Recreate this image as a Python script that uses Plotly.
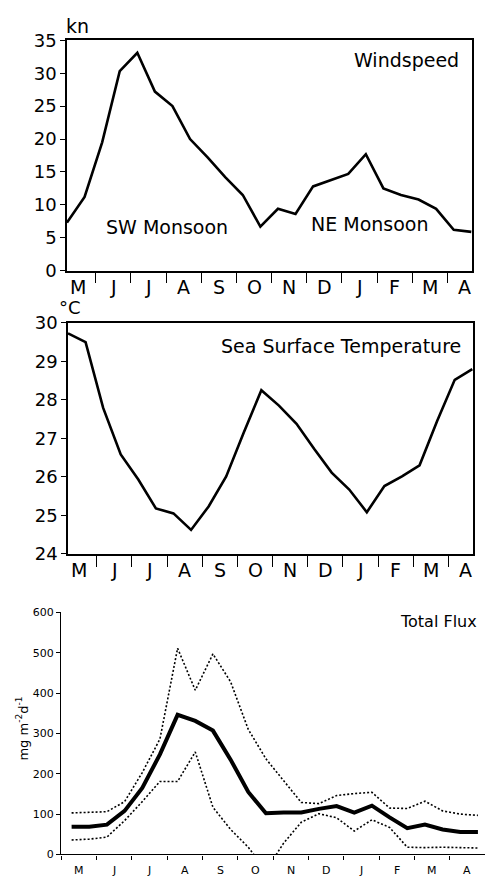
import plotly.graph_objects as go

W, H = 485, 884
FONT = "DejaVu Sans"

# ---------------- data ----------------
month_letters = ["M", "J", "J", "A", "S", "O", "N", "D", "J", "F", "M", "A"]
month_mid = [0.5, 1.5, 2.5, 3.5, 4.5, 5.5, 6.5, 7.5, 8.5, 9.5, 10.5, 11.5]
month_bounds = [1, 2, 3, 4, 5, 6, 7, 8, 9, 10, 11]
month_bounds_full = [0, 1, 2, 3, 4, 5, 6, 7, 8, 9, 10, 11, 12]

# sampling times (months after 1 May), half-monthly
t_met = [0.18, 0.68, 1.18, 1.68, 2.18, 2.68, 3.18, 3.68, 4.18, 4.68, 5.18, 5.68,
         6.18, 6.68, 7.18, 7.68, 8.18, 8.68, 9.18, 9.68, 10.18, 10.68, 11.18, 11.68]
t_flux = [0.3, 0.8, 1.3, 1.8, 2.3, 2.8, 3.3, 3.8, 4.3, 4.8, 5.3, 5.8,
          6.3, 6.8, 7.3, 7.8, 8.3, 8.8, 9.3, 9.8, 10.3, 10.8, 11.3, 11.8]

windspeed = [7.3, 11.2, 19.5, 30.3, 33.1, 27.2, 25.0, 20.0, 17.2, 14.2, 11.5, 6.7,
             9.4, 8.6, 12.8, 13.8, 14.7, 17.7, 12.5, 11.5, 10.8, 9.4, 6.2, 5.9]

sst = [29.73, 29.5, 27.79, 26.58, 25.93, 25.18, 25.05, 24.62, 25.23, 26.01, 27.15, 28.25,
       27.85, 27.38, 26.73, 26.11, 25.67, 25.08, 25.76, 26.01, 26.3, 27.45, 28.52, 28.8]

flux_mean = [68.5, 69, 74, 108, 165, 248, 346, 331, 307, 235, 155, 102,
             104, 104, 113, 120, 104, 121, 92, 65, 74, 62, 56, 56]
flux_upper = [103, 104, 106, 131, 203, 286, 511, 407, 497, 428, 310, 237,
              182, 129, 126, 146, 151, 154, 115, 114, 132, 108, 100, 97]
flux_lower = [36, 38, 43, 84, 131, 181, 181, 254, 117, 62, 18, -40,
              28, 80, 101, 91, 58, 86, 67, 18, 17, 18, 17, 16]

# ---------------- figure ----------------
def px_x(p):
    return p / W

def px_y(p):
    return 1 - p / H

fig = go.Figure()

fig.add_trace(go.Scatter(x=t_met, y=windspeed, mode="lines",
                         line=dict(color="black", width=2.6),
                         xaxis="x", yaxis="y", showlegend=False))
fig.add_trace(go.Scatter(x=t_met, y=sst, mode="lines",
                         line=dict(color="black", width=2.6),
                         xaxis="x2", yaxis="y2", showlegend=False))
fig.add_trace(go.Scatter(x=t_flux, y=flux_upper, mode="lines",
                         line=dict(color="black", width=1.6, dash="2px,2px"),
                         xaxis="x3", yaxis="y3", showlegend=False))
fig.add_trace(go.Scatter(x=t_flux, y=flux_lower, mode="lines",
                         line=dict(color="black", width=1.6, dash="2px,2px"),
                         xaxis="x3", yaxis="y3", showlegend=False))
fig.add_trace(go.Scatter(x=t_flux, y=flux_mean, mode="lines",
                         line=dict(color="black", width=4),
                         xaxis="x3", yaxis="y3", showlegend=False))


def month_axis(domain, rng, bounds, ticklen, anchor, mirror, lw):
    return dict(
        domain=domain, range=rng, anchor=anchor,
        tickmode="array", tickvals=bounds, showticklabels=False,
        ticks="outside", ticklen=ticklen, tickwidth=1.3, tickcolor="black",
        showgrid=False, zeroline=False, showline=True, linecolor="black",
        linewidth=lw, mirror=mirror, fixedrange=True,
    )


def val_axis(domain, rng, dtick, size, ticklen, anchor, mirror, lw):
    return dict(
        domain=domain, range=rng, anchor=anchor, dtick=dtick, tick0=rng[0],
        ticks="outside", ticklen=ticklen, tickwidth=1.2, tickcolor="black",
        tickfont=dict(family=FONT, size=size, color="black"),
        showgrid=False, zeroline=False, showline=True, linecolor="black",
        linewidth=lw, mirror=mirror, fixedrange=True,
    )


d1x = [px_x(67), px_x(472)]
d2x = [px_x(68), px_x(473)]
d3x = [px_x(61), 1.0]

fig.update_layout(
    width=W, height=H,
    margin=dict(l=0, r=0, t=0, b=0),
    paper_bgcolor="white", plot_bgcolor="white",
    font=dict(family=FONT, color="black"),
    xaxis=month_axis(d1x, [0.18, 11.7], month_bounds, 11, "y", True, 1.6),
    yaxis=val_axis([px_y(266), px_y(30)], [0, 35], 5, 18, 5, "x", True, 1.6),
    xaxis2=month_axis(d2x, [0.18, 11.7], month_bounds, 11, "y2", True, 1.6),
    yaxis2=val_axis([px_y(556), px_y(319.5)], [24, 30], 1, 18, 5, "x2", True, 1.6),
    xaxis3=month_axis(d3x, [0, 12], month_bounds_full, 4, "y3", False, 1.2),
    yaxis3=val_axis([px_y(864), px_y(616)], [0, 600], 100, 11, 4, "x3", False, 1.2),
)

# month letters centred between the boundary ticks
for xr, yr, size, shift in [("x", "y domain", 19, -3), ("x2", "y2 domain", 19, -3),
                            ("x3", "y3 domain", 11, -8)]:
    for xm, lab in zip(month_mid, month_letters):
        fig.add_annotation(text=lab, x=xm, y=0, xref=xr, yref=yr,
                           xanchor="center", yanchor="top", yshift=shift,
                           showarrow=False,
                           font=dict(family=FONT, size=size, color="black"))

annos = [
    dict(text="Windspeed", x=px_x(461), y=px_y(50), xanchor="right", yanchor="middle", size=19),
    dict(text="SW Monsoon", x=px_x(167), y=px_y(221), xanchor="center", yanchor="middle", size=19),
    dict(text="NE Monsoon", x=px_x(370), y=px_y(218), xanchor="center", yanchor="middle", size=19),
    dict(text="kn", x=px_x(64), y=px_y(15), xanchor="left", yanchor="middle", size=19),
    dict(text="°C", x=px_x(57), y=px_y(304), xanchor="left", yanchor="middle", size=18),
    dict(text="Sea Surface Temperature", x=px_x(463), y=px_y(343), xanchor="right", yanchor="middle", size=19),
    dict(text="Total Flux", x=px_x(479), y=px_y(625), xanchor="right", yanchor="middle", size=16),
]
for a in annos:
    fig.add_annotation(text=a["text"], x=a["x"], y=a["y"], xref="paper", yref="paper",
                       xanchor=a["xanchor"], yanchor=a["yanchor"], showarrow=False,
                       font=dict(family=FONT, size=a["size"], color="black"))

fig.add_annotation(text="mg m<sup>-2</sup>d<sup>-1</sup>", x=px_x(22), y=px_y(735),
                   xref="paper", yref="paper", xanchor="center", yanchor="middle",
                   textangle=-90, showarrow=False,
                   font=dict(family=FONT, size=13, color="black"))

fig.write_html("out.html", config={"displayModeBar": False})
